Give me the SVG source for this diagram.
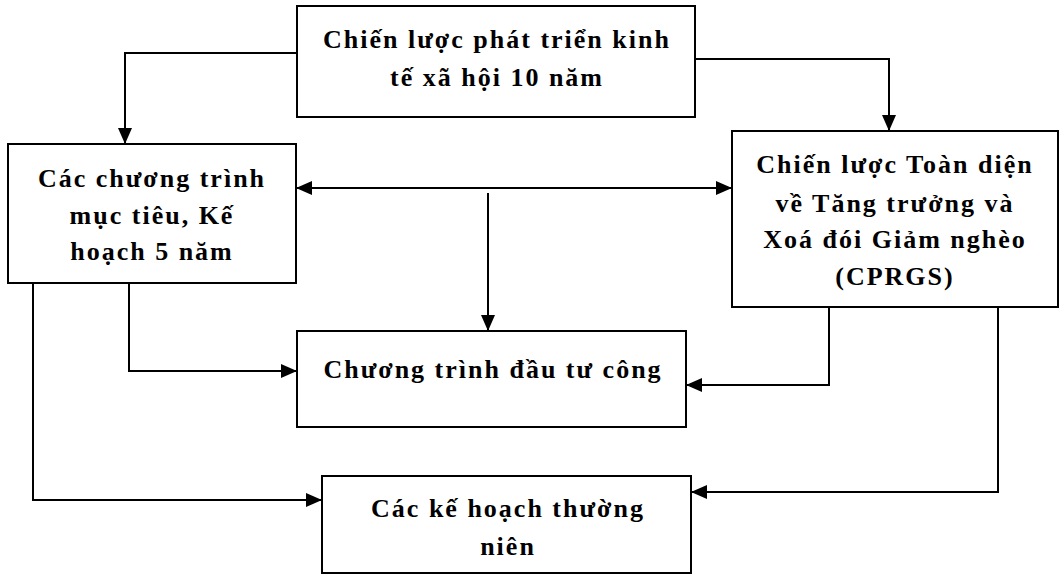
<svg xmlns="http://www.w3.org/2000/svg" width="1059" height="574" viewBox="0 0 1059 574">
<style>
.box{fill:#fff;stroke:#000;stroke-width:2}
.t{font-family:"Liberation Serif",serif;font-size:26px;font-weight:bold;letter-spacing:2px;text-anchor:middle;fill:#000}
.c{fill:none;stroke:#000;stroke-width:2}
</style>
<defs>
<marker id="a" viewBox="0 0 16 14" refX="16" refY="7" markerWidth="16" markerHeight="14" markerUnits="userSpaceOnUse" orient="auto-start-reverse">
<path d="M0,0 L16,7 L0,14 z" fill="#000"/>
</marker>
</defs>
<rect width="1059" height="574" fill="#fff"/>
<g id="connectors">
<path class="c" d="M297,53 H125 V144" marker-end="url(#a)"/>
<path class="c" d="M695,59 H889 V131" marker-end="url(#a)"/>
<path class="c" d="M296,188 H732" marker-start="url(#a)" marker-end="url(#a)"/>
<path class="c" d="M488,193 V331" marker-end="url(#a)"/>
<path class="c" d="M129,283 V371 H297" marker-end="url(#a)"/>
<path class="c" d="M33,283 V500 H322" marker-end="url(#a)"/>
<path class="c" d="M829,307 V385 H686" marker-end="url(#a)"/>
<path class="c" d="M998,307 V492 H691" marker-end="url(#a)"/>
</g>
<g id="n1">
<rect class="box" x="297" y="6" width="398" height="111"/>
<text class="t" x="497" y="48">Chiến lược phát triển kinh</text>
<text class="t" x="497" y="86">tế xã hội 10 năm</text>
</g>
<g id="n2">
<rect class="box" x="8" y="144" width="288" height="139"/>
<text class="t" x="152" y="187">Các chương trình</text>
<text class="t" x="152" y="224">mục tiêu, Kế</text>
<text class="t" x="152" y="260">hoạch 5 năm</text>
</g>
<g id="n3">
<rect class="box" x="732" y="131" width="326" height="176"/>
<text class="t" x="895" y="173">Chiến lược Toàn diện</text>
<text class="t" x="895" y="212">về Tăng trưởng và</text>
<text class="t" x="895" y="248">Xoá đói Giảm nghèo</text>
<text class="t" x="895" y="285">(CPRGS)</text>
</g>
<g id="n4">
<rect class="box" x="297" y="331" width="389" height="96"/>
<text class="t" x="493" y="378">Chương trình đầu tư công</text>
</g>
<g id="n5">
<rect class="box" x="322" y="476" width="369" height="97"/>
<text class="t" x="508" y="517">Các kế hoạch thường</text>
<text class="t" x="508" y="555">niên</text>
</g>
</svg>
